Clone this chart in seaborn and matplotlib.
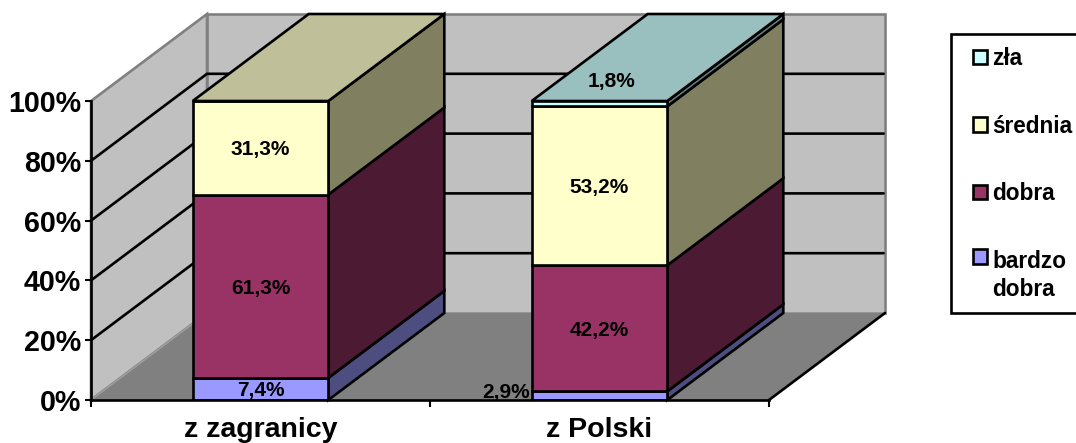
import matplotlib
matplotlib.use("Agg")
import matplotlib.pyplot as plt
from matplotlib.patches import Patch, Rectangle
import numpy as np
import seaborn as sns

categories = ["z zagranicy", "z Polski"]
series_names = ["bardzo\ndobra", "dobra", "średnia", "zła"]
bardzo_dobra = [7.4, 2.9]
dobra = [61.3, 42.2]
srednia = [31.3, 53.2]
zla = [0.0, 1.8]
y_ticks = [0, 20, 40, 60, 80, 100]

front_colors = ["#9999FF", "#993366", "#FFFFCC", "#CCFFFF"]
side_colors = ["#4D4D80", "#4C1A33", "#808060", "#668080"]
top_colors = ["#7373BF", "#732650", "#BFBF99", "#99BFBF"]

W, H = 1076, 443
sns.set_theme(style="white")
plt.rcParams["font.family"] = ["Liberation Sans", "DejaVu Sans"]
plt.rcParams["font.weight"] = "bold"

fig = plt.figure(figsize=(W / 100, H / 100), dpi=100)
ax = fig.add_axes([91 / W, (H - 400) / H, 678 / W, 299 / H])
ax.patch.set_visible(False)

# depth of the fake 3-D box, in data units
DX = 116 / 339
DY = 87 / 2.99
EDGE = 1.9

series = np.array([bardzo_dobra, dobra, srednia, zla])
shares = series / series.sum(axis=0) * 100
bottoms = np.vstack([np.zeros(2), np.cumsum(shares, axis=0)[:-1]])

XL, XR = -0.5, 1.5


def poly(xs, ys, color, edge="black", z=1.5, lw=EDGE):
    ax.fill(xs, ys, facecolor=color, edgecolor=edge, linewidth=lw,
            clip_on=False, zorder=z, joinstyle="miter")


# walls and floor
poly([XL, XL + DX, XL + DX, XL], [0, DY, 100 + DY, 100], "#C0C0C0", "#808080", 0.2)
poly([XL + DX, XR + DX, XR + DX, XL + DX], [DY, DY, 100 + DY, 100 + DY],
     "#C0C0C0", "#808080", 0.2)
poly([XL, XL + DX, XR + DX, XR], [0, DY, DY, 0], "#808080", "none", 0.3)
ax.plot([XR, XR + DX], [0, DY], color="black", lw=EDGE, clip_on=False, zorder=0.35)
ax.plot([XL, XL + DX], [0, DY], color="#A0A0A0", lw=1, clip_on=False, zorder=0.35)
ax.plot([XL + DX, XR + DX], [DY, DY], color="#999999", lw=EDGE, clip_on=False, zorder=0.28)
for t in y_ticks[1:-1]:
    ax.plot([XL, XL + DX, XR + DX - 0.004], [t, t + DY, t + DY], color="black",
            lw=EDGE, clip_on=False, zorder=0.4, solid_joinstyle="miter")

# front faces
for i in range(4):
    sns.barplot(x=categories, y=shares[i], bottom=bottoms[i], color=front_colors[i],
                saturation=1, width=0.4, edgecolor="black", linewidth=EDGE, ax=ax,
                zorder=3)

# side and top faces derived from the bars
bars = [p for p in ax.patches if isinstance(p, Rectangle)]
for i in range(4):
    for j in range(2):
        if series[i, j] <= 0:
            continue
        b = bars[i * 2 + j]
        x0, x1 = b.get_x(), b.get_x() + b.get_width()
        y0, y1 = b.get_y(), b.get_y() + b.get_height()
        poly([x1, x1 + DX, x1 + DX, x1], [y0, y0 + DY, y1 + DY, y1], side_colors[i])
        top_i = max(k for k in range(4) if series[k, j] > 0)
        if i == top_i:
            poly([x0, x0 + DX, x1 + DX, x1], [y1, y1 + DY, y1 + DY, y1], top_colors[i])

ax.set_xlim(XL, XR)
ax.set_ylim(0, 100)
ax.set_yticks(y_ticks, [f"{t}%" for t in y_ticks], fontsize=20.6, fontweight="bold")
ax.set_xticks([0, 1], categories, fontsize=20.5, fontweight="bold")
ax.set_xticks([-0.5, 0.5, 1.5], minor=True)
ax.tick_params(axis="x", which="major", length=0, pad=12.5, colors="black", bottom=False)
ax.tick_params(axis="x", which="minor", length=5, width=1.5, color="black", bottom=True)
ax.tick_params(axis="y", length=4.5, width=1.5, color="black", pad=2.5, labelcolor="black", left=True)
ax.set_xlabel("")
ax.set_ylabel("")
for s in ("top", "right"):
    ax.spines[s].set_visible(False)
for s in ("left", "bottom"):
    ax.spines[s].set_color("black")
    ax.spines[s].set_linewidth(1.9)
    ax.spines[s].set_zorder(5)


def label(x, y, v):
    ax.text(x, y - 0.6, f"{v:.1f}".replace(".", ",") + "%", ha="center", va="center",
            fontsize=15, fontweight="bold", color="black", zorder=6, clip_on=False)


for i in range(3):
    for j in range(2):
        if i == 0 and j == 1:
            continue
        label(j, bottoms[i, j] + shares[i, j] / 2, series[i, j])
# labels set off from their bars in the original
label(1 - 0.2 - 0.075, 3.0, bardzo_dobra[1])
label(1 + 0.036, 107, zla[1])

# legend box runs past the right edge of the picture
fig.add_artist(Rectangle((951 / W, 1 - 313 / H), 140 / W, 279 / H, transform=fig.transFigure,
                         facecolor="white", edgecolor="black", linewidth=EDGE,
                         clip_on=False, zorder=4))
handles = [Patch(facecolor=front_colors[i], edgecolor="black", linewidth=EDGE,
                 label=series_names[i]) for i in (3, 2, 1, 0)]
leg = fig.legend(handles=handles, loc="upper left",
                 bbox_to_anchor=(973 / W, 1 - 47 / H), bbox_transform=fig.transFigure,
                 borderaxespad=0, frameon=False, borderpad=0, labelspacing=1.97,
                 handlelength=0.6, handleheight=0.6, handletextpad=0.24,
                 prop={"weight": "bold", "size": 16.3})
leg.set_zorder(5)
for t in leg.get_texts():
    t.set_color("black")
    t.set_linespacing(1.3)
# swatch of the two-line entry sits level with its first line
last = leg.legend_handles[3]
last.set_y(last.get_y() + 14.5)

fig.savefig("out.png", dpi=100, facecolor="white")
